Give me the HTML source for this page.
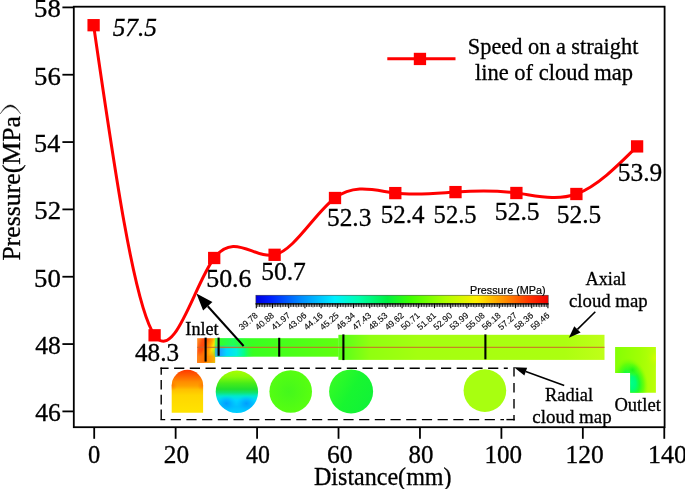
<!DOCTYPE html>
<html><head><meta charset="utf-8"><title>chart</title>
<style>
html,body{margin:0;padding:0;background:#fff;}
body{width:685px;height:489px;overflow:hidden;}
svg{display:block;will-change:transform;}
text{font-family:"Liberation Serif",serif;fill:#000;stroke:#000;stroke-width:0.3px;}
.cbl{font-family:"Liberation Sans",sans-serif;font-size:8.7px;fill:#0a0a0a;stroke-width:0.12px;}
.cbt{font-family:"Liberation Sans",sans-serif;font-size:10.8px;fill:#000;stroke-width:0.2px;}
</style></head><body>
<svg width="685" height="489" viewBox="0 0 685 489">
<rect width="685" height="489" fill="#fff"/>
<rect x="73.8" y="6.7" width="590.80" height="420.50" fill="none" stroke="#000" stroke-width="1.8"/>
<line x1="94.20" y1="427.2" x2="94.20" y2="438.8" stroke="#000" stroke-width="1.8"/>
<line x1="175.64" y1="427.2" x2="175.64" y2="438.8" stroke="#000" stroke-width="1.8"/>
<line x1="257.08" y1="427.2" x2="257.08" y2="438.8" stroke="#000" stroke-width="1.8"/>
<line x1="338.52" y1="427.2" x2="338.52" y2="438.8" stroke="#000" stroke-width="1.8"/>
<line x1="419.96" y1="427.2" x2="419.96" y2="438.8" stroke="#000" stroke-width="1.8"/>
<line x1="501.40" y1="427.2" x2="501.40" y2="438.8" stroke="#000" stroke-width="1.8"/>
<line x1="582.84" y1="427.2" x2="582.84" y2="438.8" stroke="#000" stroke-width="1.8"/>
<line x1="664.28" y1="427.2" x2="664.28" y2="438.8" stroke="#000" stroke-width="1.8"/>
<line x1="62.4" y1="411.40" x2="73.8" y2="411.40" stroke="#000" stroke-width="1.8"/>
<line x1="62.4" y1="344.07" x2="73.8" y2="344.07" stroke="#000" stroke-width="1.8"/>
<line x1="62.4" y1="276.74" x2="73.8" y2="276.74" stroke="#000" stroke-width="1.8"/>
<line x1="62.4" y1="209.40" x2="73.8" y2="209.40" stroke="#000" stroke-width="1.8"/>
<line x1="62.4" y1="142.07" x2="73.8" y2="142.07" stroke="#000" stroke-width="1.8"/>
<line x1="62.4" y1="74.73" x2="73.8" y2="74.73" stroke="#000" stroke-width="1.8"/>
<line x1="62.4" y1="7.40" x2="73.8" y2="7.40" stroke="#000" stroke-width="1.8"/>
<text transform="translate(19.5,260.6) rotate(-90) scale(1.011,1)" style="font-size:25.5px">Pressure(MPa</text>
<path d="M0.2,113.9 Q10.2,95.9 20.7,113.9 Q10.2,99.3 0.2,113.9 Z" fill="#000" stroke="#000" stroke-width="0.35" stroke-linejoin="round"/>
<defs><linearGradient id="cb" x1="0" x2="1" y1="0" y2="0"><stop offset="0" stop-color="#0000e0"/><stop offset="0.05" stop-color="#0020ff"/><stop offset="0.15" stop-color="#0088ff"/><stop offset="0.27" stop-color="#00f0ff"/><stop offset="0.35" stop-color="#00ffb0"/><stop offset="0.45" stop-color="#00f040"/><stop offset="0.53" stop-color="#40ff00"/><stop offset="0.65" stop-color="#b0ff00"/><stop offset="0.755" stop-color="#fff000"/><stop offset="0.85" stop-color="#ff9000"/><stop offset="0.94" stop-color="#ff3000"/><stop offset="1" stop-color="#f00000"/></linearGradient>
<linearGradient id="pipeN" x1="0" x2="1" y1="0" y2="0"><stop offset="0" stop-color="#30f040"/><stop offset="0.25" stop-color="#30f520"/><stop offset="1" stop-color="#58ff10"/></linearGradient>
<linearGradient id="pipeW" x1="0" x2="1" y1="0" y2="0"><stop offset="0" stop-color="#50f820"/><stop offset="0.12" stop-color="#90ff10"/><stop offset="0.4" stop-color="#a8ff10"/><stop offset="1" stop-color="#b0ff10"/></linearGradient>
<linearGradient id="inl" x1="0" x2="1" y1="0" y2="0"><stop offset="0" stop-color="#ff8a10"/><stop offset="0.2" stop-color="#ff5a00"/><stop offset="0.55" stop-color="#ff7a00"/><stop offset="0.75" stop-color="#ffb000"/><stop offset="0.9" stop-color="#ffe800"/><stop offset="1" stop-color="#a0f040"/></linearGradient>
<linearGradient id="blueL" x1="0" x2="1" y1="0" y2="0"><stop offset="0" stop-color="#00a0ff"/><stop offset="0.3" stop-color="#00d8ff"/><stop offset="0.7" stop-color="#00f0a0" stop-opacity="0.8"/><stop offset="1" stop-color="#30f040" stop-opacity="0"/></linearGradient>
<linearGradient id="arch" x1="0" x2="0" y1="0" y2="1"><stop offset="0" stop-color="#ff4000"/><stop offset="0.15" stop-color="#ff7000"/><stop offset="0.4" stop-color="#ffa000"/><stop offset="0.65" stop-color="#ffd000"/><stop offset="1" stop-color="#ffe600"/></linearGradient>
<linearGradient id="c2" x1="0" x2="0" y1="0" y2="1"><stop offset="0" stop-color="#b0ff00"/><stop offset="0.2" stop-color="#70f810"/><stop offset="0.42" stop-color="#20e030"/><stop offset="0.55" stop-color="#10e8a0"/><stop offset="0.68" stop-color="#00d8f0"/><stop offset="0.85" stop-color="#00b8ff"/><stop offset="1" stop-color="#00c8ff"/></linearGradient>
<radialGradient id="c3" cx="0.5" cy="0.5" r="0.5"><stop offset="0" stop-color="#48f818"/><stop offset="1" stop-color="#50ff10"/></radialGradient>
<linearGradient id="c4" x1="0" x2="1" y1="0" y2="0"><stop offset="0" stop-color="#30f828"/><stop offset="1" stop-color="#10f038"/></linearGradient>
</defs>
<rect x="255.9" y="295.2" width="292.3" height="8.6" fill="url(#cb)"/>
<line x1="255.6" y1="303.8" x2="548.5" y2="303.8" stroke="#000" stroke-width="1.2"/>
<rect x="255.9" y="295.2" width="292.3" height="8.8" fill="none" stroke="#333" stroke-width="0.5"/>
<line x1="256.30" y1="303.4" x2="256.30" y2="308.2" stroke="#000" stroke-width="1.1"/>
<line x1="257.92" y1="303.4" x2="257.92" y2="306.9" stroke="#000" stroke-width="0.85"/>
<line x1="259.54" y1="303.4" x2="259.54" y2="306.9" stroke="#000" stroke-width="0.85"/>
<line x1="261.16" y1="303.4" x2="261.16" y2="306.9" stroke="#000" stroke-width="0.85"/>
<line x1="262.78" y1="303.4" x2="262.78" y2="306.9" stroke="#000" stroke-width="0.85"/>
<line x1="264.40" y1="303.4" x2="264.40" y2="307.3" stroke="#000" stroke-width="0.85"/>
<line x1="266.02" y1="303.4" x2="266.02" y2="306.9" stroke="#000" stroke-width="0.85"/>
<line x1="267.64" y1="303.4" x2="267.64" y2="306.9" stroke="#000" stroke-width="0.85"/>
<line x1="269.26" y1="303.4" x2="269.26" y2="306.9" stroke="#000" stroke-width="0.85"/>
<line x1="270.88" y1="303.4" x2="270.88" y2="306.9" stroke="#000" stroke-width="0.85"/>
<text transform="translate(258.50,316.3) rotate(-41)" class="cbl" text-anchor="end">39.78</text>
<line x1="272.50" y1="303.4" x2="272.50" y2="308.2" stroke="#000" stroke-width="1.1"/>
<line x1="274.12" y1="303.4" x2="274.12" y2="306.9" stroke="#000" stroke-width="0.85"/>
<line x1="275.74" y1="303.4" x2="275.74" y2="306.9" stroke="#000" stroke-width="0.85"/>
<line x1="277.36" y1="303.4" x2="277.36" y2="306.9" stroke="#000" stroke-width="0.85"/>
<line x1="278.98" y1="303.4" x2="278.98" y2="306.9" stroke="#000" stroke-width="0.85"/>
<line x1="280.60" y1="303.4" x2="280.60" y2="307.3" stroke="#000" stroke-width="0.85"/>
<line x1="282.22" y1="303.4" x2="282.22" y2="306.9" stroke="#000" stroke-width="0.85"/>
<line x1="283.84" y1="303.4" x2="283.84" y2="306.9" stroke="#000" stroke-width="0.85"/>
<line x1="285.46" y1="303.4" x2="285.46" y2="306.9" stroke="#000" stroke-width="0.85"/>
<line x1="287.08" y1="303.4" x2="287.08" y2="306.9" stroke="#000" stroke-width="0.85"/>
<text transform="translate(274.70,316.3) rotate(-41)" class="cbl" text-anchor="end">40.88</text>
<line x1="288.70" y1="303.4" x2="288.70" y2="308.2" stroke="#000" stroke-width="1.1"/>
<line x1="290.32" y1="303.4" x2="290.32" y2="306.9" stroke="#000" stroke-width="0.85"/>
<line x1="291.94" y1="303.4" x2="291.94" y2="306.9" stroke="#000" stroke-width="0.85"/>
<line x1="293.56" y1="303.4" x2="293.56" y2="306.9" stroke="#000" stroke-width="0.85"/>
<line x1="295.18" y1="303.4" x2="295.18" y2="306.9" stroke="#000" stroke-width="0.85"/>
<line x1="296.80" y1="303.4" x2="296.80" y2="307.3" stroke="#000" stroke-width="0.85"/>
<line x1="298.42" y1="303.4" x2="298.42" y2="306.9" stroke="#000" stroke-width="0.85"/>
<line x1="300.04" y1="303.4" x2="300.04" y2="306.9" stroke="#000" stroke-width="0.85"/>
<line x1="301.66" y1="303.4" x2="301.66" y2="306.9" stroke="#000" stroke-width="0.85"/>
<line x1="303.28" y1="303.4" x2="303.28" y2="306.9" stroke="#000" stroke-width="0.85"/>
<text transform="translate(290.90,316.3) rotate(-41)" class="cbl" text-anchor="end">41.97</text>
<line x1="304.90" y1="303.4" x2="304.90" y2="308.2" stroke="#000" stroke-width="1.1"/>
<line x1="306.52" y1="303.4" x2="306.52" y2="306.9" stroke="#000" stroke-width="0.85"/>
<line x1="308.14" y1="303.4" x2="308.14" y2="306.9" stroke="#000" stroke-width="0.85"/>
<line x1="309.76" y1="303.4" x2="309.76" y2="306.9" stroke="#000" stroke-width="0.85"/>
<line x1="311.38" y1="303.4" x2="311.38" y2="306.9" stroke="#000" stroke-width="0.85"/>
<line x1="313.00" y1="303.4" x2="313.00" y2="307.3" stroke="#000" stroke-width="0.85"/>
<line x1="314.62" y1="303.4" x2="314.62" y2="306.9" stroke="#000" stroke-width="0.85"/>
<line x1="316.24" y1="303.4" x2="316.24" y2="306.9" stroke="#000" stroke-width="0.85"/>
<line x1="317.86" y1="303.4" x2="317.86" y2="306.9" stroke="#000" stroke-width="0.85"/>
<line x1="319.48" y1="303.4" x2="319.48" y2="306.9" stroke="#000" stroke-width="0.85"/>
<text transform="translate(307.10,316.3) rotate(-41)" class="cbl" text-anchor="end">43.06</text>
<line x1="321.10" y1="303.4" x2="321.10" y2="308.2" stroke="#000" stroke-width="1.1"/>
<line x1="322.72" y1="303.4" x2="322.72" y2="306.9" stroke="#000" stroke-width="0.85"/>
<line x1="324.34" y1="303.4" x2="324.34" y2="306.9" stroke="#000" stroke-width="0.85"/>
<line x1="325.96" y1="303.4" x2="325.96" y2="306.9" stroke="#000" stroke-width="0.85"/>
<line x1="327.58" y1="303.4" x2="327.58" y2="306.9" stroke="#000" stroke-width="0.85"/>
<line x1="329.20" y1="303.4" x2="329.20" y2="307.3" stroke="#000" stroke-width="0.85"/>
<line x1="330.82" y1="303.4" x2="330.82" y2="306.9" stroke="#000" stroke-width="0.85"/>
<line x1="332.44" y1="303.4" x2="332.44" y2="306.9" stroke="#000" stroke-width="0.85"/>
<line x1="334.06" y1="303.4" x2="334.06" y2="306.9" stroke="#000" stroke-width="0.85"/>
<line x1="335.68" y1="303.4" x2="335.68" y2="306.9" stroke="#000" stroke-width="0.85"/>
<text transform="translate(323.30,316.3) rotate(-41)" class="cbl" text-anchor="end">44.16</text>
<line x1="337.30" y1="303.4" x2="337.30" y2="308.2" stroke="#000" stroke-width="1.1"/>
<line x1="338.92" y1="303.4" x2="338.92" y2="306.9" stroke="#000" stroke-width="0.85"/>
<line x1="340.54" y1="303.4" x2="340.54" y2="306.9" stroke="#000" stroke-width="0.85"/>
<line x1="342.16" y1="303.4" x2="342.16" y2="306.9" stroke="#000" stroke-width="0.85"/>
<line x1="343.78" y1="303.4" x2="343.78" y2="306.9" stroke="#000" stroke-width="0.85"/>
<line x1="345.40" y1="303.4" x2="345.40" y2="307.3" stroke="#000" stroke-width="0.85"/>
<line x1="347.02" y1="303.4" x2="347.02" y2="306.9" stroke="#000" stroke-width="0.85"/>
<line x1="348.64" y1="303.4" x2="348.64" y2="306.9" stroke="#000" stroke-width="0.85"/>
<line x1="350.26" y1="303.4" x2="350.26" y2="306.9" stroke="#000" stroke-width="0.85"/>
<line x1="351.88" y1="303.4" x2="351.88" y2="306.9" stroke="#000" stroke-width="0.85"/>
<text transform="translate(339.50,316.3) rotate(-41)" class="cbl" text-anchor="end">45.25</text>
<line x1="353.50" y1="303.4" x2="353.50" y2="308.2" stroke="#000" stroke-width="1.1"/>
<line x1="355.12" y1="303.4" x2="355.12" y2="306.9" stroke="#000" stroke-width="0.85"/>
<line x1="356.74" y1="303.4" x2="356.74" y2="306.9" stroke="#000" stroke-width="0.85"/>
<line x1="358.36" y1="303.4" x2="358.36" y2="306.9" stroke="#000" stroke-width="0.85"/>
<line x1="359.98" y1="303.4" x2="359.98" y2="306.9" stroke="#000" stroke-width="0.85"/>
<line x1="361.60" y1="303.4" x2="361.60" y2="307.3" stroke="#000" stroke-width="0.85"/>
<line x1="363.22" y1="303.4" x2="363.22" y2="306.9" stroke="#000" stroke-width="0.85"/>
<line x1="364.84" y1="303.4" x2="364.84" y2="306.9" stroke="#000" stroke-width="0.85"/>
<line x1="366.46" y1="303.4" x2="366.46" y2="306.9" stroke="#000" stroke-width="0.85"/>
<line x1="368.08" y1="303.4" x2="368.08" y2="306.9" stroke="#000" stroke-width="0.85"/>
<text transform="translate(355.70,316.3) rotate(-41)" class="cbl" text-anchor="end">46.34</text>
<line x1="369.70" y1="303.4" x2="369.70" y2="308.2" stroke="#000" stroke-width="1.1"/>
<line x1="371.32" y1="303.4" x2="371.32" y2="306.9" stroke="#000" stroke-width="0.85"/>
<line x1="372.94" y1="303.4" x2="372.94" y2="306.9" stroke="#000" stroke-width="0.85"/>
<line x1="374.56" y1="303.4" x2="374.56" y2="306.9" stroke="#000" stroke-width="0.85"/>
<line x1="376.18" y1="303.4" x2="376.18" y2="306.9" stroke="#000" stroke-width="0.85"/>
<line x1="377.80" y1="303.4" x2="377.80" y2="307.3" stroke="#000" stroke-width="0.85"/>
<line x1="379.42" y1="303.4" x2="379.42" y2="306.9" stroke="#000" stroke-width="0.85"/>
<line x1="381.04" y1="303.4" x2="381.04" y2="306.9" stroke="#000" stroke-width="0.85"/>
<line x1="382.66" y1="303.4" x2="382.66" y2="306.9" stroke="#000" stroke-width="0.85"/>
<line x1="384.28" y1="303.4" x2="384.28" y2="306.9" stroke="#000" stroke-width="0.85"/>
<text transform="translate(371.90,316.3) rotate(-41)" class="cbl" text-anchor="end">47.43</text>
<line x1="385.90" y1="303.4" x2="385.90" y2="308.2" stroke="#000" stroke-width="1.1"/>
<line x1="387.52" y1="303.4" x2="387.52" y2="306.9" stroke="#000" stroke-width="0.85"/>
<line x1="389.14" y1="303.4" x2="389.14" y2="306.9" stroke="#000" stroke-width="0.85"/>
<line x1="390.76" y1="303.4" x2="390.76" y2="306.9" stroke="#000" stroke-width="0.85"/>
<line x1="392.38" y1="303.4" x2="392.38" y2="306.9" stroke="#000" stroke-width="0.85"/>
<line x1="394.00" y1="303.4" x2="394.00" y2="307.3" stroke="#000" stroke-width="0.85"/>
<line x1="395.62" y1="303.4" x2="395.62" y2="306.9" stroke="#000" stroke-width="0.85"/>
<line x1="397.24" y1="303.4" x2="397.24" y2="306.9" stroke="#000" stroke-width="0.85"/>
<line x1="398.86" y1="303.4" x2="398.86" y2="306.9" stroke="#000" stroke-width="0.85"/>
<line x1="400.48" y1="303.4" x2="400.48" y2="306.9" stroke="#000" stroke-width="0.85"/>
<text transform="translate(388.10,316.3) rotate(-41)" class="cbl" text-anchor="end">48.53</text>
<line x1="402.10" y1="303.4" x2="402.10" y2="308.2" stroke="#000" stroke-width="1.1"/>
<line x1="403.72" y1="303.4" x2="403.72" y2="306.9" stroke="#000" stroke-width="0.85"/>
<line x1="405.34" y1="303.4" x2="405.34" y2="306.9" stroke="#000" stroke-width="0.85"/>
<line x1="406.96" y1="303.4" x2="406.96" y2="306.9" stroke="#000" stroke-width="0.85"/>
<line x1="408.58" y1="303.4" x2="408.58" y2="306.9" stroke="#000" stroke-width="0.85"/>
<line x1="410.20" y1="303.4" x2="410.20" y2="307.3" stroke="#000" stroke-width="0.85"/>
<line x1="411.82" y1="303.4" x2="411.82" y2="306.9" stroke="#000" stroke-width="0.85"/>
<line x1="413.44" y1="303.4" x2="413.44" y2="306.9" stroke="#000" stroke-width="0.85"/>
<line x1="415.06" y1="303.4" x2="415.06" y2="306.9" stroke="#000" stroke-width="0.85"/>
<line x1="416.68" y1="303.4" x2="416.68" y2="306.9" stroke="#000" stroke-width="0.85"/>
<text transform="translate(404.30,316.3) rotate(-41)" class="cbl" text-anchor="end">49.62</text>
<line x1="418.30" y1="303.4" x2="418.30" y2="308.2" stroke="#000" stroke-width="1.1"/>
<line x1="419.92" y1="303.4" x2="419.92" y2="306.9" stroke="#000" stroke-width="0.85"/>
<line x1="421.54" y1="303.4" x2="421.54" y2="306.9" stroke="#000" stroke-width="0.85"/>
<line x1="423.16" y1="303.4" x2="423.16" y2="306.9" stroke="#000" stroke-width="0.85"/>
<line x1="424.78" y1="303.4" x2="424.78" y2="306.9" stroke="#000" stroke-width="0.85"/>
<line x1="426.40" y1="303.4" x2="426.40" y2="307.3" stroke="#000" stroke-width="0.85"/>
<line x1="428.02" y1="303.4" x2="428.02" y2="306.9" stroke="#000" stroke-width="0.85"/>
<line x1="429.64" y1="303.4" x2="429.64" y2="306.9" stroke="#000" stroke-width="0.85"/>
<line x1="431.26" y1="303.4" x2="431.26" y2="306.9" stroke="#000" stroke-width="0.85"/>
<line x1="432.88" y1="303.4" x2="432.88" y2="306.9" stroke="#000" stroke-width="0.85"/>
<text transform="translate(420.50,316.3) rotate(-41)" class="cbl" text-anchor="end">50.71</text>
<line x1="434.50" y1="303.4" x2="434.50" y2="308.2" stroke="#000" stroke-width="1.1"/>
<line x1="436.12" y1="303.4" x2="436.12" y2="306.9" stroke="#000" stroke-width="0.85"/>
<line x1="437.74" y1="303.4" x2="437.74" y2="306.9" stroke="#000" stroke-width="0.85"/>
<line x1="439.36" y1="303.4" x2="439.36" y2="306.9" stroke="#000" stroke-width="0.85"/>
<line x1="440.98" y1="303.4" x2="440.98" y2="306.9" stroke="#000" stroke-width="0.85"/>
<line x1="442.60" y1="303.4" x2="442.60" y2="307.3" stroke="#000" stroke-width="0.85"/>
<line x1="444.22" y1="303.4" x2="444.22" y2="306.9" stroke="#000" stroke-width="0.85"/>
<line x1="445.84" y1="303.4" x2="445.84" y2="306.9" stroke="#000" stroke-width="0.85"/>
<line x1="447.46" y1="303.4" x2="447.46" y2="306.9" stroke="#000" stroke-width="0.85"/>
<line x1="449.08" y1="303.4" x2="449.08" y2="306.9" stroke="#000" stroke-width="0.85"/>
<text transform="translate(436.70,316.3) rotate(-41)" class="cbl" text-anchor="end">51.81</text>
<line x1="450.70" y1="303.4" x2="450.70" y2="308.2" stroke="#000" stroke-width="1.1"/>
<line x1="452.32" y1="303.4" x2="452.32" y2="306.9" stroke="#000" stroke-width="0.85"/>
<line x1="453.94" y1="303.4" x2="453.94" y2="306.9" stroke="#000" stroke-width="0.85"/>
<line x1="455.56" y1="303.4" x2="455.56" y2="306.9" stroke="#000" stroke-width="0.85"/>
<line x1="457.18" y1="303.4" x2="457.18" y2="306.9" stroke="#000" stroke-width="0.85"/>
<line x1="458.80" y1="303.4" x2="458.80" y2="307.3" stroke="#000" stroke-width="0.85"/>
<line x1="460.42" y1="303.4" x2="460.42" y2="306.9" stroke="#000" stroke-width="0.85"/>
<line x1="462.04" y1="303.4" x2="462.04" y2="306.9" stroke="#000" stroke-width="0.85"/>
<line x1="463.66" y1="303.4" x2="463.66" y2="306.9" stroke="#000" stroke-width="0.85"/>
<line x1="465.28" y1="303.4" x2="465.28" y2="306.9" stroke="#000" stroke-width="0.85"/>
<text transform="translate(452.90,316.3) rotate(-41)" class="cbl" text-anchor="end">52.90</text>
<line x1="466.90" y1="303.4" x2="466.90" y2="308.2" stroke="#000" stroke-width="1.1"/>
<line x1="468.52" y1="303.4" x2="468.52" y2="306.9" stroke="#000" stroke-width="0.85"/>
<line x1="470.14" y1="303.4" x2="470.14" y2="306.9" stroke="#000" stroke-width="0.85"/>
<line x1="471.76" y1="303.4" x2="471.76" y2="306.9" stroke="#000" stroke-width="0.85"/>
<line x1="473.38" y1="303.4" x2="473.38" y2="306.9" stroke="#000" stroke-width="0.85"/>
<line x1="475.00" y1="303.4" x2="475.00" y2="307.3" stroke="#000" stroke-width="0.85"/>
<line x1="476.62" y1="303.4" x2="476.62" y2="306.9" stroke="#000" stroke-width="0.85"/>
<line x1="478.24" y1="303.4" x2="478.24" y2="306.9" stroke="#000" stroke-width="0.85"/>
<line x1="479.86" y1="303.4" x2="479.86" y2="306.9" stroke="#000" stroke-width="0.85"/>
<line x1="481.48" y1="303.4" x2="481.48" y2="306.9" stroke="#000" stroke-width="0.85"/>
<text transform="translate(469.10,316.3) rotate(-41)" class="cbl" text-anchor="end">53.99</text>
<line x1="483.10" y1="303.4" x2="483.10" y2="308.2" stroke="#000" stroke-width="1.1"/>
<line x1="484.72" y1="303.4" x2="484.72" y2="306.9" stroke="#000" stroke-width="0.85"/>
<line x1="486.34" y1="303.4" x2="486.34" y2="306.9" stroke="#000" stroke-width="0.85"/>
<line x1="487.96" y1="303.4" x2="487.96" y2="306.9" stroke="#000" stroke-width="0.85"/>
<line x1="489.58" y1="303.4" x2="489.58" y2="306.9" stroke="#000" stroke-width="0.85"/>
<line x1="491.20" y1="303.4" x2="491.20" y2="307.3" stroke="#000" stroke-width="0.85"/>
<line x1="492.82" y1="303.4" x2="492.82" y2="306.9" stroke="#000" stroke-width="0.85"/>
<line x1="494.44" y1="303.4" x2="494.44" y2="306.9" stroke="#000" stroke-width="0.85"/>
<line x1="496.06" y1="303.4" x2="496.06" y2="306.9" stroke="#000" stroke-width="0.85"/>
<line x1="497.68" y1="303.4" x2="497.68" y2="306.9" stroke="#000" stroke-width="0.85"/>
<text transform="translate(485.30,316.3) rotate(-41)" class="cbl" text-anchor="end">55.08</text>
<line x1="499.30" y1="303.4" x2="499.30" y2="308.2" stroke="#000" stroke-width="1.1"/>
<line x1="500.92" y1="303.4" x2="500.92" y2="306.9" stroke="#000" stroke-width="0.85"/>
<line x1="502.54" y1="303.4" x2="502.54" y2="306.9" stroke="#000" stroke-width="0.85"/>
<line x1="504.16" y1="303.4" x2="504.16" y2="306.9" stroke="#000" stroke-width="0.85"/>
<line x1="505.78" y1="303.4" x2="505.78" y2="306.9" stroke="#000" stroke-width="0.85"/>
<line x1="507.40" y1="303.4" x2="507.40" y2="307.3" stroke="#000" stroke-width="0.85"/>
<line x1="509.02" y1="303.4" x2="509.02" y2="306.9" stroke="#000" stroke-width="0.85"/>
<line x1="510.64" y1="303.4" x2="510.64" y2="306.9" stroke="#000" stroke-width="0.85"/>
<line x1="512.26" y1="303.4" x2="512.26" y2="306.9" stroke="#000" stroke-width="0.85"/>
<line x1="513.88" y1="303.4" x2="513.88" y2="306.9" stroke="#000" stroke-width="0.85"/>
<text transform="translate(501.50,316.3) rotate(-41)" class="cbl" text-anchor="end">56.18</text>
<line x1="515.50" y1="303.4" x2="515.50" y2="308.2" stroke="#000" stroke-width="1.1"/>
<line x1="517.12" y1="303.4" x2="517.12" y2="306.9" stroke="#000" stroke-width="0.85"/>
<line x1="518.74" y1="303.4" x2="518.74" y2="306.9" stroke="#000" stroke-width="0.85"/>
<line x1="520.36" y1="303.4" x2="520.36" y2="306.9" stroke="#000" stroke-width="0.85"/>
<line x1="521.98" y1="303.4" x2="521.98" y2="306.9" stroke="#000" stroke-width="0.85"/>
<line x1="523.60" y1="303.4" x2="523.60" y2="307.3" stroke="#000" stroke-width="0.85"/>
<line x1="525.22" y1="303.4" x2="525.22" y2="306.9" stroke="#000" stroke-width="0.85"/>
<line x1="526.84" y1="303.4" x2="526.84" y2="306.9" stroke="#000" stroke-width="0.85"/>
<line x1="528.46" y1="303.4" x2="528.46" y2="306.9" stroke="#000" stroke-width="0.85"/>
<line x1="530.08" y1="303.4" x2="530.08" y2="306.9" stroke="#000" stroke-width="0.85"/>
<text transform="translate(517.70,316.3) rotate(-41)" class="cbl" text-anchor="end">57.27</text>
<line x1="531.70" y1="303.4" x2="531.70" y2="308.2" stroke="#000" stroke-width="1.1"/>
<line x1="533.32" y1="303.4" x2="533.32" y2="306.9" stroke="#000" stroke-width="0.85"/>
<line x1="534.94" y1="303.4" x2="534.94" y2="306.9" stroke="#000" stroke-width="0.85"/>
<line x1="536.56" y1="303.4" x2="536.56" y2="306.9" stroke="#000" stroke-width="0.85"/>
<line x1="538.18" y1="303.4" x2="538.18" y2="306.9" stroke="#000" stroke-width="0.85"/>
<line x1="539.80" y1="303.4" x2="539.80" y2="307.3" stroke="#000" stroke-width="0.85"/>
<line x1="541.42" y1="303.4" x2="541.42" y2="306.9" stroke="#000" stroke-width="0.85"/>
<line x1="543.04" y1="303.4" x2="543.04" y2="306.9" stroke="#000" stroke-width="0.85"/>
<line x1="544.66" y1="303.4" x2="544.66" y2="306.9" stroke="#000" stroke-width="0.85"/>
<line x1="546.28" y1="303.4" x2="546.28" y2="306.9" stroke="#000" stroke-width="0.85"/>
<text transform="translate(533.90,316.3) rotate(-41)" class="cbl" text-anchor="end">58.36</text>
<line x1="547.90" y1="303.4" x2="547.90" y2="308.2" stroke="#000" stroke-width="1.1"/>
<text transform="translate(550.10,316.3) rotate(-41)" class="cbl" text-anchor="end">59.46</text>
<text x="545.6" y="294.3" class="cbt" text-anchor="end">Pressure (MPa)</text>
<defs>
<linearGradient id="inlA" gradientUnits="userSpaceOnUse" x1="197" y1="343" x2="216.5" y2="350"><stop offset="0" stop-color="#ff8a20"/><stop offset="0.2" stop-color="#ff5010"/><stop offset="0.34" stop-color="#ff4808"/><stop offset="0.5" stop-color="#ff7800"/><stop offset="0.64" stop-color="#ffa000"/><stop offset="0.78" stop-color="#ffe000"/><stop offset="0.9" stop-color="#c0f418"/><stop offset="1" stop-color="#50f838"/></linearGradient>
<linearGradient id="inlB" x1="0" x2="1" y1="0" y2="0"><stop offset="0" stop-color="#ff8a18"/><stop offset="0.35" stop-color="#ff7000"/><stop offset="0.7" stop-color="#ff9000"/><stop offset="1" stop-color="#ffb400"/></linearGradient><linearGradient id="inlBm" x1="0" x2="0" y1="0" y2="1"><stop offset="0" stop-color="#fff" stop-opacity="0"/><stop offset="0.5" stop-color="#fff" stop-opacity="0.9"/><stop offset="1" stop-color="#fff" stop-opacity="1"/></linearGradient><mask id="mInl"><rect x="197" y="350" width="19" height="13" fill="url(#inlBm)"/></mask>
<linearGradient id="pN" gradientUnits="userSpaceOnUse" x1="215" y1="0" x2="339" y2="0"><stop offset="0" stop-color="#30ff30"/><stop offset="0.3" stop-color="#38ff20"/><stop offset="1" stop-color="#60ff10"/></linearGradient>
<linearGradient id="pNb" gradientUnits="userSpaceOnUse" x1="215" y1="0" x2="254" y2="0"><stop offset="0" stop-color="#40c0c0"/><stop offset="0.1" stop-color="#2098ff"/><stop offset="0.3" stop-color="#00d8ff"/><stop offset="0.55" stop-color="#00f0e0"/><stop offset="0.75" stop-color="#00ff90" stop-opacity="0.9"/><stop offset="1" stop-color="#30ff30" stop-opacity="0"/></linearGradient>
<linearGradient id="pNt" gradientUnits="userSpaceOnUse" x1="215" y1="0" x2="252" y2="0"><stop offset="0" stop-color="#70f050"/><stop offset="0.15" stop-color="#30ff30" stop-opacity="0.6"/><stop offset="0.5" stop-color="#10ff80" stop-opacity="0.55"/><stop offset="1" stop-color="#30ff30" stop-opacity="0"/></linearGradient>
<linearGradient id="pNv" x1="0" x2="0" y1="0" y2="1"><stop offset="0" stop-color="#fff" stop-opacity="0"/><stop offset="0.35" stop-color="#fff" stop-opacity="0"/><stop offset="0.6" stop-color="#fff" stop-opacity="1"/><stop offset="1" stop-color="#fff" stop-opacity="1"/></linearGradient>
<mask id="mLow"><rect x="214" y="338.2" width="44" height="18.6" fill="url(#pNv)"/></mask>
<linearGradient id="pW" gradientUnits="userSpaceOnUse" x1="338" y1="0" x2="605" y2="0"><stop offset="0" stop-color="#58ff18"/><stop offset="0.03" stop-color="#60ff18"/><stop offset="0.12" stop-color="#90ff10"/><stop offset="0.3" stop-color="#a4ff10"/><stop offset="0.85" stop-color="#acff10"/><stop offset="1" stop-color="#c0ff18"/></linearGradient>
</defs>
<rect x="197.2" y="338.2" width="17.9" height="24.6" fill="url(#inlA)"/>
<rect x="197.2" y="350" width="17.9" height="12.8" fill="url(#inlB)" mask="url(#mInl)"/>
<rect x="214.9" y="338.2" width="123.8" height="18.5" fill="url(#pN)"/>
<rect x="214.9" y="338.2" width="38" height="9.5" fill="url(#pNt)"/>
<rect x="214.9" y="338.2" width="40" height="18.5" fill="url(#pNb)" mask="url(#mLow)"/>
<rect x="338.4" y="334.8" width="266.1" height="25.1" fill="url(#pW)"/>
<line x1="197.2" y1="347.3" x2="604.5" y2="347.3" stroke="#d06428" stroke-width="1"/>
<line x1="205.6" y1="337.6" x2="205.6" y2="361.6" stroke="#000" stroke-width="2.1"/>
<line x1="218.6" y1="337.6" x2="218.6" y2="355.8" stroke="#000" stroke-width="2.1"/>
<line x1="279.2" y1="337.8" x2="279.2" y2="356.6" stroke="#000" stroke-width="2.1"/>
<line x1="343.4" y1="334.4" x2="343.4" y2="360.1" stroke="#000" stroke-width="2.1"/>
<line x1="485.4" y1="334.4" x2="485.4" y2="359.3" stroke="#000" stroke-width="2.1"/>
<path d="M160.4,368.2 H507.8" stroke="#000" stroke-width="1.4" fill="none" stroke-dasharray="10.2 5.5" stroke-dashoffset="2.0"/>
<path d="M160.4,419.6 H504" stroke="#000" stroke-width="1.4" fill="none" stroke-dasharray="10.2 5.5" stroke-dashoffset="5.4"/>
<path d="M506.4,419.6 H514.7" stroke="#000" stroke-width="1.4" fill="none"/>
<path d="M161.2,367.4 V420.4" stroke="#000" stroke-width="1.4" fill="none" stroke-dasharray="9.6 5.2" stroke-dashoffset="2.2"/>
<path d="M514.0,367.3 V420.4" stroke="#000" stroke-width="1.4" fill="none" stroke-dasharray="9.6 6.4" stroke-dashoffset="0.4"/>
<defs>
<linearGradient id="archG" gradientUnits="userSpaceOnUse" x1="0" y1="369.8" x2="0" y2="412.6"><stop offset="0" stop-color="#ff3800"/><stop offset="0.14" stop-color="#ff6000"/><stop offset="0.28" stop-color="#ff8c00"/><stop offset="0.38" stop-color="#ffa000"/><stop offset="0.46" stop-color="#ffc000"/><stop offset="0.6" stop-color="#ffd600"/><stop offset="1" stop-color="#ffe400"/></linearGradient>
<radialGradient id="archS" cx="0.5" cy="0.5" r="0.5"><stop offset="0" stop-color="#ff7800" stop-opacity="0.9"/><stop offset="1" stop-color="#ff8a00" stop-opacity="0"/></radialGradient>
<clipPath id="archC"><path d="M171.7,412.7 L171.7,385.5 A15.7,15.7 0 0 1 203.1,385.5 L203.1,412.7 Z"/></clipPath>
<linearGradient id="c2G" gradientUnits="userSpaceOnUse" x1="0" y1="370.4" x2="0" y2="413.2"><stop offset="0" stop-color="#a8ff00"/><stop offset="0.15" stop-color="#88fa08"/><stop offset="0.3" stop-color="#48ec18"/><stop offset="0.44" stop-color="#20e030"/><stop offset="0.52" stop-color="#10e470"/><stop offset="0.6" stop-color="#00e8d0"/><stop offset="0.7" stop-color="#00d4ff"/><stop offset="0.85" stop-color="#00c0ff"/><stop offset="1" stop-color="#00d0ff"/></linearGradient>
<radialGradient id="c2B" cx="0.5" cy="0.5" r="0.5"><stop offset="0" stop-color="#0098ff" stop-opacity="0.9"/><stop offset="0.4" stop-color="#00a4ff" stop-opacity="0.65"/><stop offset="1" stop-color="#00b8ff" stop-opacity="0"/></radialGradient>
<clipPath id="c2C"><circle cx="236.9" cy="391.8" r="21.2"/></clipPath>
<radialGradient id="c3G" cx="0.45" cy="0.5" r="0.55"><stop offset="0" stop-color="#44f81c"/><stop offset="1" stop-color="#58ff10"/></radialGradient>
<linearGradient id="c4G" x1="0" x2="1" y1="0.2" y2="0.8"><stop offset="0" stop-color="#38fc24"/><stop offset="0.5" stop-color="#18f630"/><stop offset="1" stop-color="#10f238"/></linearGradient>
</defs>
<g clip-path="url(#archC)"><rect x="171" y="369" width="33" height="44" fill="url(#archG)"/><ellipse cx="172.5" cy="385" rx="5" ry="6" fill="url(#archS)"/><ellipse cx="202.3" cy="385" rx="5" ry="6" fill="url(#archS)"/></g>
<g clip-path="url(#c2C)"><rect x="215" y="370" width="44" height="44" fill="url(#c2G)"/><ellipse cx="226.5" cy="403.5" rx="10" ry="8" fill="url(#c2B)"/><ellipse cx="246.5" cy="403.5" rx="10" ry="8" fill="url(#c2B)"/></g>
<circle cx="290.7" cy="391.5" r="21.3" fill="url(#c3G)"/>
<circle cx="351.1" cy="391.4" r="22" fill="url(#c4G)"/>
<circle cx="484.9" cy="390.6" r="21.3" fill="#a8ff10"/>
<defs>
<linearGradient id="oA" gradientUnits="userSpaceOnUse" x1="615" y1="0" x2="656" y2="0"><stop offset="0" stop-color="#84ff04"/><stop offset="0.6" stop-color="#a0ff04"/><stop offset="1" stop-color="#bcff08"/></linearGradient>
<radialGradient id="oB" gradientUnits="userSpaceOnUse" cx="0" cy="0" r="1" gradientTransform="translate(630.8,382.5) rotate(-12) scale(17,25)"><stop offset="0" stop-color="#00ff8c"/><stop offset="0.28" stop-color="#00fc78"/><stop offset="0.5" stop-color="#18fc30" stop-opacity="0.95"/><stop offset="0.75" stop-color="#40ff10" stop-opacity="0.6"/><stop offset="1" stop-color="#80ff00" stop-opacity="0"/></radialGradient>
<radialGradient id="oC" gradientUnits="userSpaceOnUse" cx="632.5" cy="370" r="7"><stop offset="0" stop-color="#18f418" stop-opacity="0.9"/><stop offset="1" stop-color="#60ff10" stop-opacity="0"/></radialGradient>
<radialGradient id="oD" gradientUnits="userSpaceOnUse" cx="656" cy="358" r="10"><stop offset="0" stop-color="#d8ff00" stop-opacity="0.9"/><stop offset="1" stop-color="#b0ff00" stop-opacity="0"/></radialGradient>
<clipPath id="oClip"><path d="M615.1,347.1 H655.9 V392.8 H630.2 V372.9 H615.1 Z"/></clipPath>
</defs>
<g clip-path="url(#oClip)"><rect x="615" y="347" width="42" height="46" fill="url(#oA)"/><rect x="615" y="347" width="42" height="46" fill="url(#oB)"/><rect x="615" y="347" width="42" height="46" fill="url(#oC)"/><rect x="615" y="347" width="42" height="46" fill="url(#oD)"/></g>
<line x1="243.60" y1="346.00" x2="207.78" y2="306.23" stroke="#000" stroke-width="2.0"/>
<polygon points="196.40,293.60 212.42,302.05 203.13,310.41" fill="#000"/>
<line x1="595.30" y1="311.70" x2="577.43" y2="329.36" stroke="#000" stroke-width="1.6"/>
<polygon points="568.90,337.80 574.27,326.16 580.60,332.56" fill="#000"/>
<line x1="564.20" y1="385.40" x2="525.76" y2="371.54" stroke="#000" stroke-width="1.6"/>
<polygon points="514.00,367.30 527.15,367.68 524.37,375.40" fill="#000"/>
<path d="M93.60,25.20 C113.93,165.95 134.27,306.70 154.60,335.30 C174.47,363.24 194.33,284.13 214.20,258.00 C234.33,231.52 254.47,259.46 274.60,254.80 C294.73,250.14 314.87,212.90 335.00,198.00 C355.10,183.13 375.20,190.53 395.30,193.10 C415.37,195.67 435.43,193.42 455.50,192.10 C475.80,190.76 496.10,190.36 516.40,193.00 C536.40,195.60 556.40,201.14 576.40,194.00 C596.63,186.78 616.87,166.59 637.10,146.40" fill="none" stroke="#ff0000" stroke-width="3.0" stroke-linejoin="round"/>
<rect x="87.45" y="19.05" width="12.3" height="12.3" fill="#ff0000"/>
<rect x="148.45" y="329.15" width="12.3" height="12.3" fill="#ff0000"/>
<rect x="208.05" y="251.85" width="12.3" height="12.3" fill="#ff0000"/>
<rect x="268.45" y="248.65" width="12.3" height="12.3" fill="#ff0000"/>
<rect x="328.85" y="191.85" width="12.3" height="12.3" fill="#ff0000"/>
<rect x="389.15" y="186.95" width="12.3" height="12.3" fill="#ff0000"/>
<rect x="449.35" y="185.95" width="12.3" height="12.3" fill="#ff0000"/>
<rect x="510.25" y="186.85" width="12.3" height="12.3" fill="#ff0000"/>
<rect x="570.25" y="187.85" width="12.3" height="12.3" fill="#ff0000"/>
<rect x="630.95" y="140.25" width="12.3" height="12.3" fill="#ff0000"/>
<line x1="387.3" y1="58.8" x2="455.5" y2="58.8" stroke="#ff0000" stroke-width="3.0"/>
<rect x="413.8" y="52.8" width="12.3" height="12.3" fill="#ff0000"/>
<text transform="translate(87.90,463.00) scale(0.9951,1)" style="font-size:24.6px;">0</text>
<text transform="translate(163.77,463.00) scale(1.0286,1)" style="font-size:24.6px;">20</text>
<text transform="translate(246.04,463.00) scale(0.9700,1)" style="font-size:24.6px;">40</text>
<text transform="translate(327.06,463.00) scale(1.0418,1)" style="font-size:24.6px;">60</text>
<text transform="translate(408.49,463.00) scale(1.0110,1)" style="font-size:24.6px;">80</text>
<text transform="translate(484.51,463.00) scale(1.0193,1)" style="font-size:24.6px;">100</text>
<text transform="translate(565.57,463.00) scale(1.0370,1)" style="font-size:24.6px;">120</text>
<text transform="translate(647.92,463.00) scale(1.0578,1)" style="font-size:24.6px;">140</text>
<text transform="translate(35.18,421.40) scale(1.0409,1)" style="font-size:24.6px;">46</text>
<text transform="translate(35.18,354.07) scale(1.0409,1)" style="font-size:24.6px;">48</text>
<text transform="translate(34.07,286.74) scale(1.0876,1)" style="font-size:24.6px;">50</text>
<text transform="translate(34.31,219.40) scale(1.0900,1)" style="font-size:24.6px;">52</text>
<text transform="translate(34.10,152.07) scale(1.0637,1)" style="font-size:24.6px;">54</text>
<text transform="translate(34.07,84.73) scale(1.0876,1)" style="font-size:24.6px;">56</text>
<text transform="translate(34.07,17.40) scale(1.0876,1)" style="font-size:24.6px;">58</text>
<text transform="translate(134.99,361.30) scale(1.0241,1)" style="font-size:24.6px;">48.3</text>
<text transform="translate(206.22,287.30) scale(1.0528,1)" style="font-size:24.6px;">50.6</text>
<text transform="translate(261.14,280.10) scale(1.0380,1)" style="font-size:24.6px;">50.7</text>
<text transform="translate(326.95,225.70) scale(1.0321,1)" style="font-size:24.6px;">52.3</text>
<text transform="translate(380.78,223.10) scale(1.0158,1)" style="font-size:24.6px;">52.4</text>
<text transform="translate(433.60,223.10) scale(1.0000,1)" style="font-size:24.6px;">52.5</text>
<text transform="translate(494.84,220.10) scale(1.0420,1)" style="font-size:24.6px;">52.5</text>
<text transform="translate(556.85,223.00) scale(1.0321,1)" style="font-size:24.6px;">52.5</text>
<text transform="translate(617.85,180.60) scale(1.0321,1)" style="font-size:24.6px;">53.9</text>
<text transform="translate(112.69,36.40) scale(1.0299,1)" style="font-size:24.6px;font-style:italic;">57.5</text>
<text transform="translate(313.96,484.60) scale(0.9866,1)" style="font-size:24.4px;">Distance(mm)</text>
<text transform="translate(185.37,335.20) scale(0.9774,1)" style="font-size:18.6px;">Inlet</text>
<text transform="translate(614.45,411.40) scale(0.9978,1)" style="font-size:18.6px;">Outlet</text>
<text transform="translate(585.55,284.90) scale(0.9816,1)" style="font-size:18.6px;">Axial</text>
<text transform="translate(569.04,306.60) scale(1.0078,1)" style="font-size:18.6px;">cloud map</text>
<text transform="translate(545.00,400.90) scale(0.9906,1)" style="font-size:18.6px;">Radial</text>
<text transform="translate(532.34,423.20) scale(1.0170,1)" style="font-size:18.6px;">cloud map</text>
<text transform="translate(467.80,54.40) scale(0.9976,1)" style="font-size:22.4px;">Speed on a straight</text>
<text transform="translate(475.00,80.20) scale(1.0051,1)" style="font-size:22.4px;">line of cloud map</text>
</svg>
</body></html>
